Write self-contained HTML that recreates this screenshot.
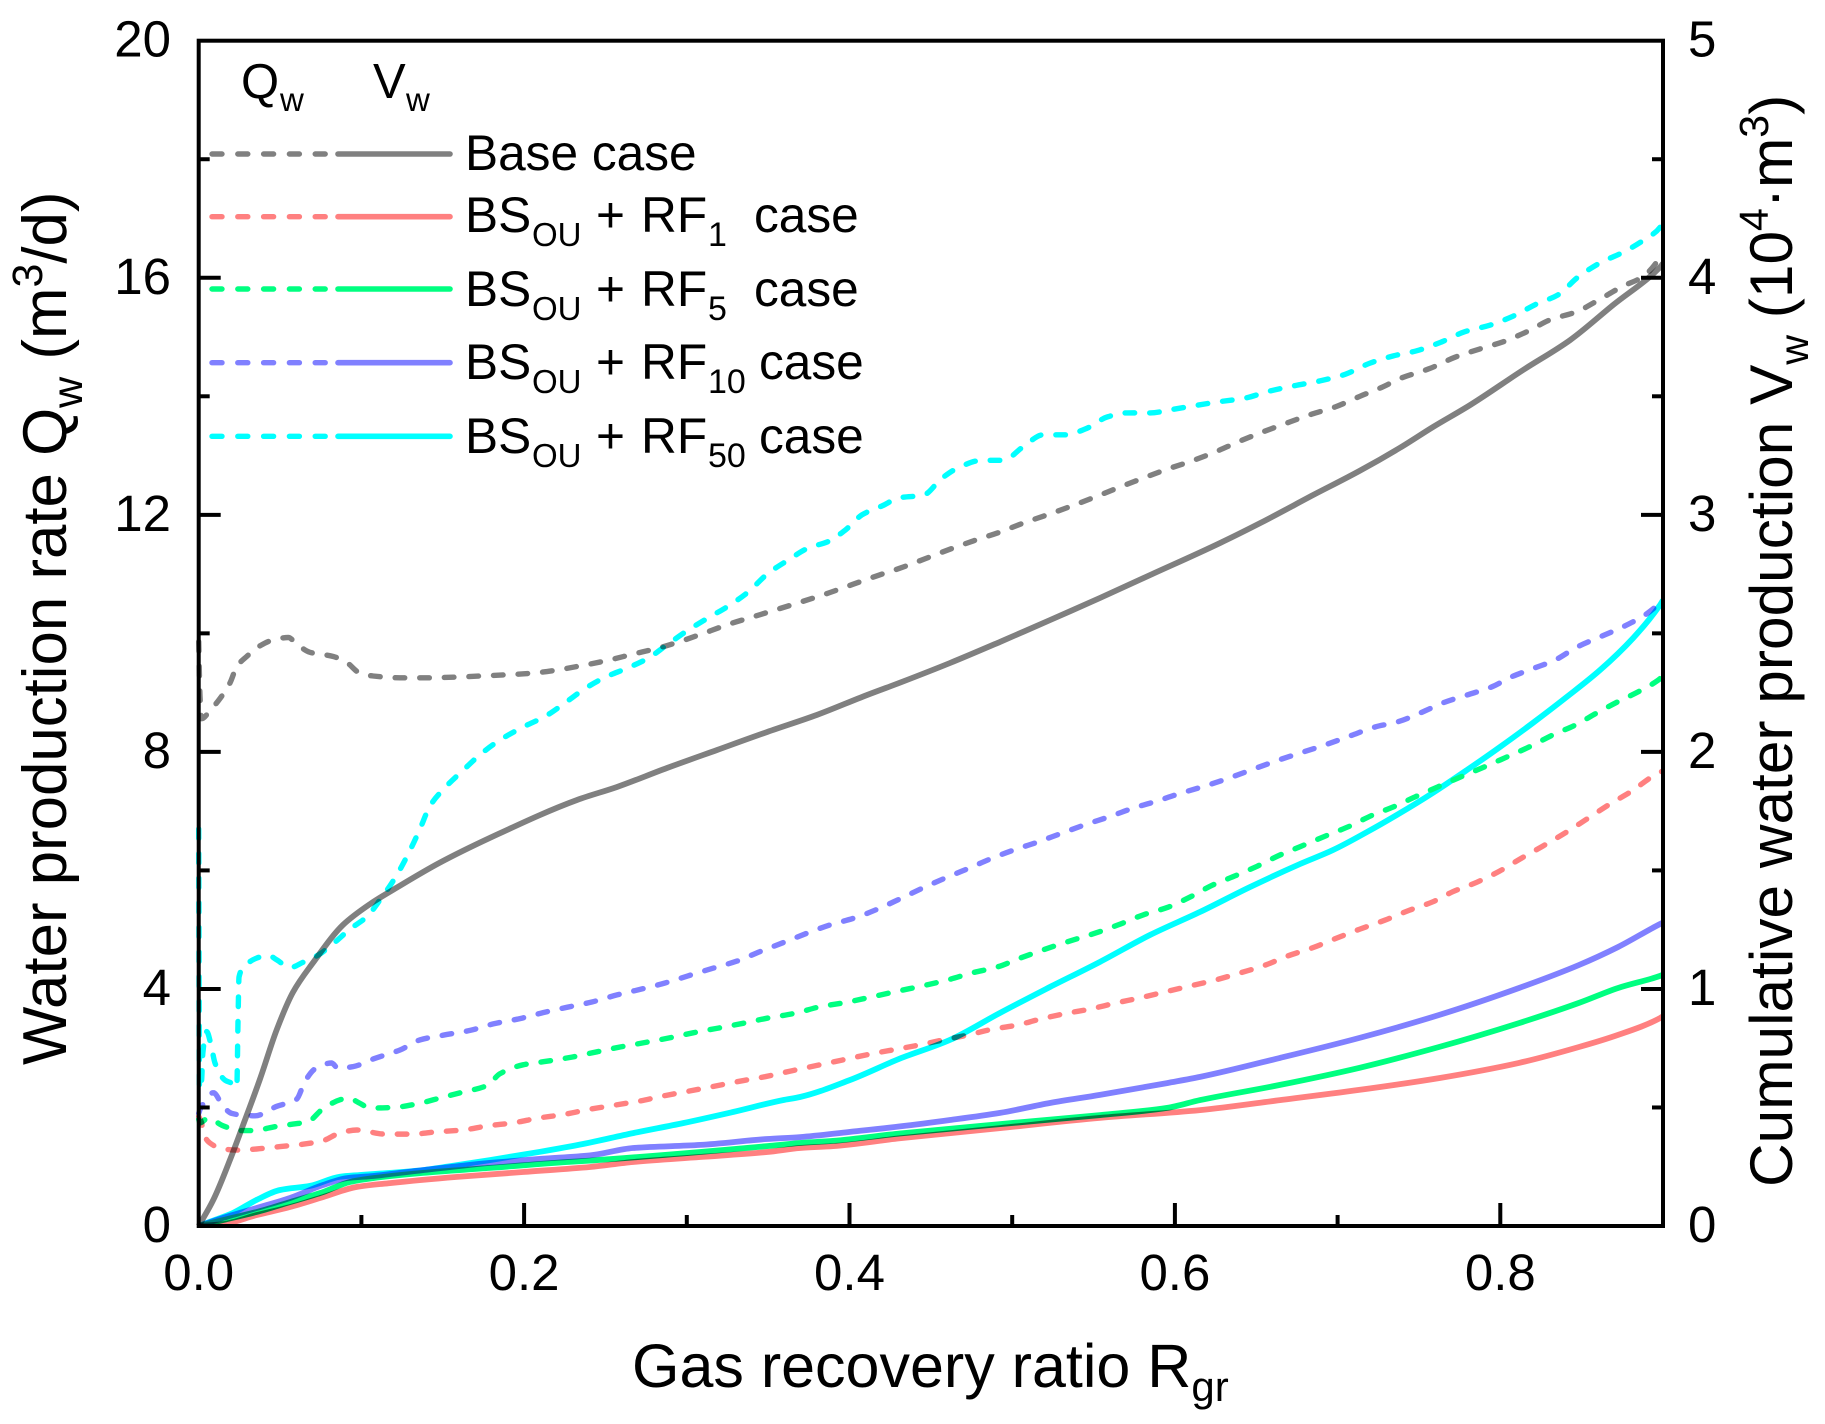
<!DOCTYPE html>
<html lang="en">
<head>
<meta charset="utf-8">
<title>Water production rate and cumulative water production vs gas recovery ratio</title>
<style>
html,body{margin:0;padding:0;background:#fff;}
svg{display:block;}
text{font-family:"Liberation Sans",sans-serif;fill:#000;}
.series{mix-blend-mode:multiply;}
</style>
</head>
<body>
<svg id="chart" xmlns="http://www.w3.org/2000/svg" width="1825" height="1424" viewBox="0 0 1825 1424">
  <rect x="0" y="0" width="1825" height="1424" fill="#fff"/>
  <defs><clipPath id="plot-clip"><rect x="196" y="40" width="1467" height="1186"/></clipPath></defs>
  <g id="series-layer" clip-path="url(#plot-clip)" style="isolation:isolate"></g>
  <g id="axis-layer"></g>

  <g>
    <text x="241" y="98" font-size="49">Q<tspan x="280" y="111" font-size="33">w</tspan></text>
    <text x="373" y="98" font-size="49">V<tspan x="406" y="111" font-size="33">w</tspan></text>
    <g id="legend-lines"></g>
    <text x="465" y="170" font-size="49.6">Base case</text>
    <text y="232" font-size="49.6"><tspan x="465">BS</tspan><tspan x="532" y="246" font-size="33">OU</tspan><tspan x="596" y="232">+</tspan><tspan x="641">RF</tspan><tspan x="708" y="246" font-size="34">1</tspan><tspan x="754" y="232">case</tspan></text>
    <text y="306" font-size="49.6"><tspan x="465">BS</tspan><tspan x="532" y="320" font-size="33">OU</tspan><tspan x="596" y="306">+</tspan><tspan x="641">RF</tspan><tspan x="708" y="320" font-size="34">5</tspan><tspan x="754" y="306">case</tspan></text>
    <text y="379" font-size="49.6"><tspan x="465">BS</tspan><tspan x="532" y="393" font-size="33">OU</tspan><tspan x="596" y="379">+</tspan><tspan x="641">RF</tspan><tspan x="708" y="393" font-size="34">10</tspan><tspan x="759" y="379">case</tspan></text>
    <text y="453" font-size="49.6"><tspan x="465">BS</tspan><tspan x="532" y="467" font-size="33">OU</tspan><tspan x="596" y="453">+</tspan><tspan x="641">RF</tspan><tspan x="708" y="467" font-size="34">50</tspan><tspan x="759" y="453">case</tspan></text>
  </g>

  <text transform="translate(632,1387)" font-size="61">Gas recovery ratio R<tspan dy="14" font-size="42">gr</tspan></text>
  <text transform="translate(66,1065) rotate(-90)" font-size="61.8">Water production rate Q<tspan dy="16" font-size="43">w</tspan><tspan dy="-16"> (m</tspan><tspan dy="-24" font-size="43">3</tspan><tspan dy="24">/d)</tspan></text>
  <text transform="translate(1792,1187) rotate(-90)" font-size="60.4">Cumulative water production V<tspan dy="16" font-size="41">w</tspan><tspan dy="-16"> (10</tspan><tspan dy="-24" font-size="41">4</tspan><tspan dy="24">·m</tspan><tspan dy="-24" font-size="41">3</tspan><tspan dy="24">)</tspan></text>
</svg>

<script>
// ---- tick values and labels ----
const xMajorTicks = [0, 0.2, 0.4, 0.6, 0.8];
const xMinorTicks = [0.1, 0.3, 0.5, 0.7];
const xTickLabels = ["0.0", "0.2", "0.4", "0.6", "0.8"];
const qMajorTicks = [0, 4, 8, 12, 16, 20];
const qMinorTicks = [2, 6, 10, 14, 18];
const qTickLabels = ["0", "4", "8", "12", "16", "20"];
const vMajorTicks = [0, 1, 2, 3, 4, 5];
const vMinorTicks = [0.5, 1.5, 2.5, 3.5, 4.5];
const vTickLabels = ["0", "1", "2", "3", "4", "5"];

// ---- Base case, water production rate Qw (dashed) ----
const baseQwR = [0,.0008,.0018,.007,.0131,.0192,.0234,.0295,.0377,.0458,.0551,.0602,.0684,.0827,.0909,.099,.1072,.1237,.1405,.1564,.173,.2056,.22,.2344,.2507,.267,.2835,.2977,.3122,.3265,.3408,.3573,.3715,.388,.4023,.4167,.431,.4618,.4761,.4915,.5068,.5215,.5367,.5509,.5663,.5805,.5952,.6105,.6247,.6388,.6542,.6689,.6842,.6984,.7137,.7279,.7384,.7568,.7722,.7875,.8017,.8171,.8306,.8472,.8601,.8748,.8877,.8982,.9];
const baseQwV = [9.86,8.94,8.56,8.7,8.9,9.16,9.44,9.61,9.79,9.89,9.93,9.82,9.68,9.61,9.51,9.33,9.28,9.25,9.25,9.26,9.28,9.33,9.38,9.45,9.54,9.65,9.76,9.88,10.02,10.16,10.28,10.42,10.54,10.69,10.83,10.97,11.1,11.42,11.56,11.7,11.86,12,12.15,12.3,12.47,12.62,12.77,12.91,13.06,13.23,13.4,13.55,13.7,13.82,14,14.16,14.3,14.47,14.66,14.8,14.92,15.1,15.29,15.43,15.62,15.85,16.02,16.35,16.45];

// ---- BSou + RF1, Qw (dashed) ----
const rf1QwR = [0,.0018,.0026,.0069,.015,.0234,.0356,.05,.0641,.0764,.0868,.0973,.1145,.1311,.1464,.1624,.1778,.1932,.2085,.2239,.2405,.2559,.2712,.2866,.302,.3173,.3339,.3481,.3647,.38,.3954,.4108,.4262,.4422,.4576,.4723,.4877,.503,.5171,.5337,.5478,.5632,.5786,.5939,.6093,.6247,.6401,.6554,.6696,.6842,.6996,.7137,.729,.7443,.7585,.7708,.7855,.7997,.8132,.8261,.8409,.8539,.8674,.8809,.8932,.9];
const rf1QwV = [1.85,1.74,1.59,1.4,1.3,1.28,1.3,1.34,1.38,1.44,1.57,1.62,1.55,1.55,1.59,1.62,1.69,1.74,1.82,1.88,1.97,2.04,2.11,2.2,2.28,2.36,2.45,2.52,2.62,2.71,2.8,2.89,2.97,3.05,3.14,3.22,3.32,3.39,3.49,3.59,3.66,3.76,3.85,3.95,4.05,4.15,4.27,4.4,4.56,4.69,4.86,5.01,5.16,5.33,5.47,5.64,5.8,5.99,6.21,6.41,6.65,6.88,7.12,7.34,7.58,7.68];

// ---- BSou + RF5, Qw (dashed) ----
const rf5QwR = [0,.0008,.0057,.015,.0254,.0326,.048,.058,.0672,.0756,.0868,.0918,.0991,.1053,.1194,.1341,.1483,.1624,.1772,.1852,.1993,.214,.2294,.2448,.259,.2731,.2885,.3039,.3193,.3346,.35,.3666,.3819,.3973,.4127,.4292,.4445,.46,.4753,.4907,.5049,.5202,.5356,.5509,.5651,.5805,.5958,.6093,.623,.6372,.6505,.6646,.6769,.6942,.7077,.7212,.7341,.7476,.7617,.7741,.7888,.8029,.8183,.8318,.8459,.8595,.8718,.8859,.897,.9];
const rf5QwV = [1.8,1.74,1.82,1.69,1.61,1.61,1.68,1.72,1.76,1.96,2.13,2.16,2.07,1.99,2,2.06,2.16,2.26,2.37,2.57,2.72,2.78,2.85,2.94,3.02,3.09,3.17,3.26,3.34,3.42,3.51,3.59,3.7,3.77,3.86,3.96,4.05,4.15,4.27,4.37,4.52,4.67,4.81,4.94,5.08,5.25,5.38,5.55,5.75,5.91,6.07,6.26,6.4,6.6,6.75,6.93,7.07,7.24,7.41,7.56,7.73,7.9,8.09,8.28,8.45,8.66,8.84,9.03,9.21,9.28];

// ---- BSou + RF10, Qw (dashed) ----
const rf10QwR = [0,.0012,.0039,.009,.015,.0203,.0273,.0346,.048,.0602,.0653,.0715,.0817,.0857,.0949,.1084,.1237,.136,.1502,.1668,.181,.1975,.2117,.2263,.2417,.2571,.2725,.2866,.3007,.3161,.3308,.345,.3591,.3739,.388,.4034,.4175,.431,.4464,.4605,.4728,.4863,.5005,.5158,.5306,.5447,.5601,.5742,.589,.601,.6227,.6657,.6769,.6935,.7077,.723,.7372,.7519,.766,.7796,.795,.8072,.8195,.8337,.8472,.8613,.8754,.8889,.8982,.9];
const rf10QwV = [1.9,1.99,2.1,2.25,2.02,1.9,1.87,1.86,2.02,2.14,2.44,2.65,2.75,2.66,2.69,2.83,2.97,3.14,3.22,3.3,3.41,3.5,3.6,3.69,3.78,3.9,4,4.1,4.22,4.35,4.47,4.63,4.78,4.94,5.08,5.2,5.35,5.52,5.72,5.89,6.03,6.19,6.34,6.48,6.63,6.77,6.91,7.05,7.17,7.28,7.46,7.88,7.98,8.13,8.27,8.42,8.51,8.67,8.84,8.96,9.1,9.27,9.4,9.55,9.77,9.94,10.11,10.31,10.51,10.55];

// ---- BSou + RF50, Qw (dashed) ----
const rf50QwR = [0,.0005,.0018,.0025,.0049,.0074,.01,.0162,.0203,.0234,.0242,.0248,.0285,.0356,.0426,.048,.0561,.0641,.0733,.0825,.093,.1034,.1114,.1217,.1299,.136,.1422,.1508,.1625,.1741,.1852,.1994,.213,.2263,.2375,.2507,.2631,.2762,.2875,.3,.3131,.3255,.3378,.3494,.3625,.3747,.3869,.3973,.4077,.42,.431,.4453,.4569,.468,.4814,.4944,.5068,.519,.5325,.5459,.5583,.5706,.5848,.5989,.6137,.6278,.6431,.6584,.6738,.6892,.7045,.7199,.734,.7488,.7641,.7782,.7936,.8077,.8225,.8354,.8477,.8613,.8754,.8889,.8994,.9];
const rf50QwV = [6.7,2.3,2.46,2.91,3.28,3.08,2.75,2.46,2.41,2.34,3.53,4.2,4.39,4.52,4.57,4.49,4.36,4.45,4.57,4.76,5.01,5.22,5.5,5.92,6.34,6.7,7.09,7.38,7.69,7.98,8.2,8.42,8.6,8.85,9.07,9.27,9.41,9.58,9.8,10.04,10.26,10.46,10.7,11,11.24,11.44,11.55,11.74,12,12.15,12.29,12.33,12.62,12.81,12.92,12.92,13.15,13.35,13.35,13.46,13.65,13.72,13.72,13.78,13.85,13.91,13.97,14.09,14.18,14.26,14.37,14.56,14.68,14.77,14.92,15.09,15.2,15.35,15.56,15.71,16.01,16.25,16.43,16.65,16.9,16.95];

// ---- Base case, cumulative water production Vw (solid) ----
const baseVwR = [0,.009,.0192,.0273,.0377,.0481,.058,.0702,.0887,.1053,.1219,.1483,.179,.2325,.2571,.2878,.3186,.3494,.38,.4108,.431,.4618,.4925,.5232,.5539,.5848,.6278,.6524,.6849,.7137,.7384,.7585,.7814,.814,.8429,.8693,.8982,.9];
const baseVwV = [0,.11,.278,.426,.62,.831,.987,1.11,1.27,1.358,1.428,1.533,1.637,1.797,1.852,1.932,2.008,2.084,2.156,2.24,2.292,2.375,2.464,2.556,2.649,2.746,2.881,2.965,3.083,3.186,3.283,3.37,3.463,3.611,3.737,3.885,4.045,4.06];

// ---- BSou + RF1, Vw (solid) ----
const rf1VwR = [0,.015,.0356,.0561,.0764,.0973,.1176,.1588,.1993,.2405,.267,.3082,.3494,.3696,.39,.431,.4925,.5539,.6155,.6646,.7132,.7623,.8115,.8484,.8724,.8982,.9];
const rf1VwV = [0,.008,.046,.08,.122,.165,.181,.207,.228,.249,.27,.291,.312,.329,.337,.37,.413,.456,.489,.531,.574,.624,.688,.755,.806,.877,.885];

// ---- BSou + RF5, Vw (solid) ----
const rf5VwR = [0,.015,.0356,.0561,.0764,.093,.1072,.1379,.179,.2264,.2405,.3082,.3494,.3696,.39,.431,.4925,.5539,.5952,.6155,.6646,.7132,.7623,.8115,.8484,.8724,.8982,.9];
const rf5VwV = [0,.025,.059,.101,.143,.186,.202,.224,.245,.27,.276,.312,.337,.35,.359,.39,.43,.468,.498,.531,.595,.667,.755,.856,.941,1.004,1.055,1.06];

// ---- BSou + RF10, Vw (solid) ----
const rf10VwR = [0,.015,.0356,.0561,.0764,.0912,.1072,.1379,.179,.2098,.2405,.267,.3082,.3494,.3696,.4003,.431,.4618,.4925,.5232,.5539,.5952,.6155,.6646,.7132,.7623,.8115,.8484,.8724,.8982,.9];
const rf10VwV = [0,.034,.076,.118,.173,.202,.211,.236,.266,.283,.298,.329,.342,.367,.375,.397,.42,.447,.477,.519,.553,.603,.629,.709,.793,.89,1.004,1.101,1.177,1.274,1.28];

// ---- BSou + RF50, Vw (solid) ----
const rf50VwR = [0,.007,.021,.0356,.05,.0684,.0868,.0991,.1176,.1379,.1588,.179,.2098,.2362,.267,.2977,.3284,.3591,.3696,.4003,.431,.4618,.4925,.5232,.5539,.5848,.6155,.6462,.6769,.6972,.7181,.7384,.7585,.7796,.7997,.82,.8409,.8613,.8816,.8982,.9];
const rf50VwV = [0,.018,.055,.11,.152,.169,.208,.215,.224,.236,.257,.278,.313,.346,.392,.434,.481,.531,.544,.616,.706,.785,.899,1.008,1.114,1.228,1.325,1.43,1.527,1.586,1.662,1.742,1.827,1.924,2.02,2.122,2.232,2.345,2.48,2.62,2.64];

// ---- axis functions ----
const plotLeft = 198.7, plotRight = 1663, plotTop = 40.7, plotBottom = 1226;
function xScale(r) { return plotLeft + r / 0.9 * (plotRight - plotLeft); }
function qScale(q) { return plotBottom - q / 20 * (plotBottom - plotTop); }
function vScale(v) { return plotBottom - v / 5 * (plotBottom - plotTop); }

const SVGNS = 'http://www.w3.org/2000/svg';
const seriesLayer = document.getElementById('series-layer');
const axisLayer = document.getElementById('axis-layer');
const legendLines = document.getElementById('legend-lines');

// Monotone cubic through the mapped points, so the curve stays smooth without overshoot.
function curvePath(xs, ys, yFn) {
  const px = xs.map(xScale);
  const py = ys.map(yFn);
  const n = px.length;
  const s = [];
  for (let i = 0; i < n - 1; i++) {
    s.push((py[i + 1] - py[i]) / Math.max(px[i + 1] - px[i], 1e-6));
  }
  const m = [s[0]];
  for (let i = 1; i < n - 1; i++) {
    if (s[i - 1] * s[i] <= 0) {
      m.push(0);
    } else {
      const h0 = px[i] - px[i - 1], h1 = px[i + 1] - px[i];
      m.push(3 * (h0 + h1) / ((2 * h1 + h0) / s[i - 1] + (h1 + 2 * h0) / s[i]));
    }
  }
  m.push(s[n - 2]);
  let d = 'M' + px[0].toFixed(1) + ' ' + py[0].toFixed(1);
  for (let i = 0; i < n - 1; i++) {
    const dx = (px[i + 1] - px[i]) / 3;
    d += ' C' + (px[i] + dx).toFixed(2) + ' ' + (py[i] + m[i] * dx).toFixed(2) + ' ' +
      (px[i + 1] - dx).toFixed(2) + ' ' + (py[i + 1] - m[i + 1] * dx).toFixed(2) + ' ' +
      px[i + 1].toFixed(1) + ' ' + py[i + 1].toFixed(1);
  }
  return d;
}

function drawCurve(xs, ys, yFn, color, dashed, name) {
  const p = document.createElementNS(SVGNS, 'path');
  p.setAttribute('d', curvePath(xs, ys, yFn));
  p.setAttribute('fill', 'none');
  p.setAttribute('stroke', color);
  p.setAttribute('stroke-width', dashed ? '5.4' : '5.8');
  p.setAttribute('stroke-linejoin', 'round');
  p.setAttribute('class', 'series');
  if (dashed) {
    p.setAttribute('stroke-dasharray', '9.6 15');
    p.setAttribute('stroke-linecap', 'round');
  }
  
  
  seriesLayer.appendChild(p);
}

const cGrey = '#808080', cPink = '#ff8080', cGreen = '#00ff80', cBlue = '#8080ff', cCyan = '#00ffff';
drawCurve(baseQwR, baseQwV, qScale, cGrey, true, 'base-case-qw-line');
drawCurve(rf1QwR, rf1QwV, qScale, cPink, true, 'rf1-case-qw-line');
drawCurve(rf5QwR, rf5QwV, qScale, cGreen, true, 'rf5-case-qw-line');
drawCurve(rf10QwR, rf10QwV, qScale, cBlue, true, 'rf10-case-qw-line');
drawCurve(rf50QwR, rf50QwV, qScale, cCyan, true, 'rf50-case-qw-line');
drawCurve(baseVwR, baseVwV, vScale, cGrey, false, 'base-case-vw-line');
drawCurve(rf1VwR, rf1VwV, vScale, cPink, false, 'rf1-case-vw-line');
drawCurve(rf5VwR, rf5VwV, vScale, cGreen, false, 'rf5-case-vw-line');
drawCurve(rf10VwR, rf10VwV, vScale, cBlue, false, 'rf10-case-vw-line');
drawCurve(rf50VwR, rf50VwV, vScale, cCyan, false, 'rf50-case-vw-line');

// ---- axes ----
function addLine(parent, x1, y1, x2, y2, w, name) {
  const l = document.createElementNS(SVGNS, 'line');
  l.setAttribute('x1', x1);
  l.setAttribute('y1', y1);
  l.setAttribute('x2', x2);
  l.setAttribute('y2', y2);
  l.setAttribute('stroke', '#000');
  l.setAttribute('stroke-width', w);
  
  
  parent.appendChild(l);
}
function addLabel(x, y, str, anchor, name) {
  const t = document.createElementNS(SVGNS, 'text');
  t.setAttribute('x', x);
  t.setAttribute('y', y);
  t.setAttribute('font-size', '51');
  t.setAttribute('text-anchor', anchor);
  t.textContent = str;
  
  
  axisLayer.appendChild(t);
}
const frame = document.createElementNS(SVGNS, 'rect');
frame.setAttribute('x', plotLeft);
frame.setAttribute('y', plotTop);
frame.setAttribute('width', plotRight - plotLeft);
frame.setAttribute('height', plotBottom - plotTop);
frame.setAttribute('fill', 'none');
frame.setAttribute('stroke', '#000');
frame.setAttribute('stroke-width', '4');


axisLayer.appendChild(frame);

xMajorTicks.forEach(function (v, i) {
  if (v > 0) addLine(axisLayer, xScale(v), plotBottom, xScale(v), plotBottom - 23, 4, 'x-major-tick');
  addLabel(xScale(v), 1290, xTickLabels[i], 'middle', 'x-tick-label');
});
xMinorTicks.forEach(function (v) {
  addLine(axisLayer, xScale(v), plotBottom, xScale(v), plotBottom - 11, 4, 'x-minor-tick');
});
qMajorTicks.forEach(function (v, i) {
  if (v > 0 && v < 20) addLine(axisLayer, plotLeft, qScale(v), plotLeft + 22, qScale(v), 4, 'left-major-tick');
  addLabel(171, qScale(v) + 16, qTickLabels[i], 'end', 'left-tick-label');
});
qMinorTicks.forEach(function (v) {
  addLine(axisLayer, plotLeft, qScale(v), plotLeft + 11, qScale(v), 4, 'left-minor-tick');
});
vMajorTicks.forEach(function (v, i) {
  if (v > 0 && v < 5) addLine(axisLayer, plotRight, vScale(v), plotRight - 22, vScale(v), 4, 'right-major-tick');
  addLabel(1688, vScale(v) + 16, vTickLabels[i], 'start', 'right-tick-label');
});
vMinorTicks.forEach(function (v) {
  addLine(axisLayer, plotRight, vScale(v), plotRight - 11, vScale(v), 4, 'right-minor-tick');
});

// ---- legend swatches ----
const legendColors = [cGrey, cPink, cGreen, cBlue, cCyan];
const legendRows = [154, 216.7, 289, 362.7, 436.3];
const legendKeys = ['base', 'rf1', 'rf5', 'rf10', 'rf50'];
legendColors.forEach(function (c, i) {
  const a = document.createElementNS(SVGNS, 'line');
  a.setAttribute('x1', 212);
  a.setAttribute('x2', 329);
  a.setAttribute('y1', legendRows[i]);
  a.setAttribute('y2', legendRows[i]);
  a.setAttribute('stroke', c);
  a.setAttribute('stroke-width', '5.4');
  a.setAttribute('stroke-dasharray', '10 15.8');
  a.setAttribute('stroke-linecap', 'round');
  
  
  legendLines.appendChild(a);
  const b = document.createElementNS(SVGNS, 'line');
  b.setAttribute('x1', 338);
  b.setAttribute('x2', 450);
  b.setAttribute('y1', legendRows[i]);
  b.setAttribute('y2', legendRows[i]);
  b.setAttribute('stroke', c);
  b.setAttribute('stroke-width', '5.6');
  b.setAttribute('stroke-linecap', 'round');
  
  
  legendLines.appendChild(b);
});
</script>
</body>
</html>
